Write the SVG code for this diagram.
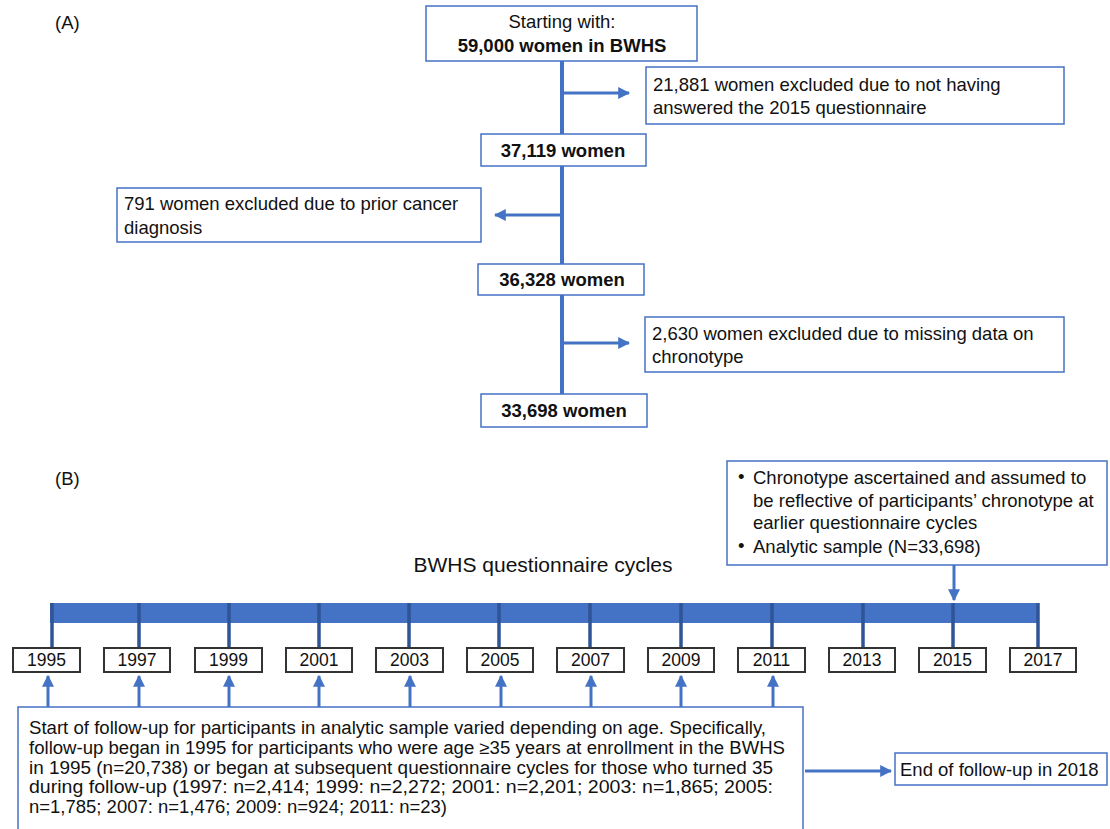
<svg xmlns="http://www.w3.org/2000/svg" width="1110" height="829" viewBox="0 0 1110 829">
<style>
text{font-family:"Liberation Sans",Arial,sans-serif;fill:#111;}
.t{font-size:18.5px;}
.b{font-size:18.5px;font-weight:bold;}
.box{fill:#fff;stroke:#4472C4;stroke-width:1.5;}
.yr{fill:#fff;stroke:#333;stroke-width:2;}
.yt{font-size:17.5px;text-anchor:middle;}
.ln{stroke:#4472C4;stroke-width:4;fill:none;}
.ar{stroke:#4472C4;stroke-width:3;fill:none;}
.tick{stroke:#2F5597;stroke-width:3.5;}
.bt{font-size:18px;}
</style>
<defs>
<marker id="ah" viewBox="0 0 10 10" refX="9" refY="5" markerWidth="4" markerHeight="4" orient="auto" markerUnits="strokeWidth">
<path d="M0,0L10,5L0,10z" fill="#4472C4"/>
</marker>
</defs>
<text x="55" y="29" class="t">(A)</text>
<text x="55" y="485" class="t">(B)</text>
<text x="543" y="572" style="font-size:21px;text-anchor:middle">BWHS questionnaire cycles</text>

<g id="connectors">
<line class="ln" x1="562" y1="61" x2="562" y2="394"/>
<line class="ar" x1="562" y1="93" x2="629" y2="93" marker-end="url(#ah)"/>
<line class="ar" x1="562" y1="215" x2="495" y2="215" marker-end="url(#ah)"/>
<line class="ar" x1="562" y1="343" x2="629" y2="343" marker-end="url(#ah)"/>
<line class="ar" x1="954" y1="565" x2="954" y2="600" marker-end="url(#ah)"/>
<line class="ar" x1="48" y1="707" x2="48" y2="676" marker-end="url(#ah)"/>
<line class="ar" x1="139" y1="707" x2="139" y2="676" marker-end="url(#ah)"/>
<line class="ar" x1="229" y1="707" x2="229" y2="676" marker-end="url(#ah)"/>
<line class="ar" x1="319" y1="707" x2="319" y2="676" marker-end="url(#ah)"/>
<line class="ar" x1="410" y1="707" x2="410" y2="676" marker-end="url(#ah)"/>
<line class="ar" x1="501" y1="707" x2="501" y2="676" marker-end="url(#ah)"/>
<line class="ar" x1="591" y1="707" x2="591" y2="676" marker-end="url(#ah)"/>
<line class="ar" x1="681" y1="707" x2="681" y2="676" marker-end="url(#ah)"/>
<line class="ar" x1="773" y1="707" x2="773" y2="676" marker-end="url(#ah)"/>
<line class="ar" x1="805" y1="771" x2="891" y2="771" marker-end="url(#ah)"/>
</g>

<g id="n-start">
<rect class="box" x="426" y="6" width="271" height="55"/>
<text x="562" y="28" class="t" text-anchor="middle">Starting with:</text>
<text x="562" y="52" class="b" text-anchor="middle">59,000 women in BWHS</text>
</g>
<g id="n-excl1">
<rect class="box" x="646" y="67" width="418" height="57"/>
<text x="653" y="91" class="t">21,881 women excluded due to not having</text>
<text x="653" y="114" class="t">answered the 2015 questionnaire</text>
</g>
<g id="n-37119">
<rect class="box" x="481" y="134" width="165" height="32"/>
<text x="563" y="157" class="b" text-anchor="middle">37,119 women</text>
</g>
<g id="n-excl2">
<rect class="box" x="117" y="188" width="364" height="54"/>
<text x="124" y="210" class="t">791 women excluded due to prior cancer</text>
<text x="124" y="234" class="t">diagnosis</text>
</g>
<g id="n-36328">
<rect class="box" x="478" y="264" width="166" height="31"/>
<text x="562" y="286" class="b" text-anchor="middle">36,328 women</text>
</g>
<g id="n-excl3">
<rect class="box" x="645" y="317" width="419" height="55"/>
<text x="652" y="340" class="t">2,630 women excluded due to missing data on</text>
<text x="652" y="363" class="t">chronotype</text>
</g>
<g id="n-33698">
<rect class="box" x="481" y="394" width="166" height="33"/>
<text x="564" y="417" class="b" text-anchor="middle">33,698 women</text>
</g>

<g id="n-chrono">
<rect class="box" x="727" y="461" width="380" height="104"/>
<text x="738" y="483" class="t">•</text>
<text x="753" y="484" class="t">Chronotype ascertained and assumed to</text>
<text x="753" y="507" class="t">be reflective of participants’ chronotype at</text>
<text x="753" y="529" class="t">earlier questionnaire cycles</text>
<text x="738" y="552" class="t">•</text>
<text x="753" y="553" class="t">Analytic sample (N=33,698)</text>
</g>

<g id="timeline">
<rect x="50" y="603" width="989" height="20" fill="#4472C4"/>
<g class="tick">
<line x1="52" y1="603" x2="52" y2="648"/>
<line x1="139" y1="603" x2="139" y2="648"/>
<line x1="229" y1="603" x2="229" y2="648"/>
<line x1="319" y1="603" x2="319" y2="648"/>
<line x1="409" y1="603" x2="409" y2="648"/>
<line x1="499" y1="603" x2="499" y2="648"/>
<line x1="590" y1="603" x2="590" y2="648"/>
<line x1="681" y1="603" x2="681" y2="648"/>
<line x1="772" y1="603" x2="772" y2="648"/>
<line x1="863" y1="603" x2="863" y2="648"/>
<line x1="953" y1="603" x2="953" y2="648"/>
<line x1="1038" y1="603" x2="1038" y2="648"/>
</g>
</g>
<g id="y1995"><rect class="yr" x="13" y="648" width="67" height="24"/><text class="yt" x="46.5" y="666">1995</text></g>
<g id="y1997"><rect class="yr" x="104" y="648" width="66" height="24"/><text class="yt" x="137" y="666">1997</text></g>
<g id="y1999"><rect class="yr" x="195" y="648" width="67" height="24"/><text class="yt" x="228.5" y="666">1999</text></g>
<g id="y2001"><rect class="yr" x="286" y="648" width="66" height="24"/><text class="yt" x="319" y="666">2001</text></g>
<g id="y2003"><rect class="yr" x="376" y="648" width="67" height="24"/><text class="yt" x="409.5" y="666">2003</text></g>
<g id="y2005"><rect class="yr" x="467" y="648" width="66" height="24"/><text class="yt" x="500" y="666">2005</text></g>
<g id="y2007"><rect class="yr" x="557" y="648" width="67" height="24"/><text class="yt" x="590.5" y="666">2007</text></g>
<g id="y2009"><rect class="yr" x="648" y="648" width="66" height="24"/><text class="yt" x="681" y="666">2009</text></g>
<g id="y2011"><rect class="yr" x="738" y="648" width="67" height="24"/><text class="yt" x="771.5" y="666">2011</text></g>
<g id="y2013"><rect class="yr" x="829" y="648" width="66" height="24"/><text class="yt" x="862" y="666">2013</text></g>
<g id="y2015"><rect class="yr" x="919" y="648" width="67" height="24"/><text class="yt" x="952.5" y="666">2015</text></g>
<g id="y2017"><rect class="yr" x="1010" y="648" width="66" height="24"/><text class="yt" x="1043" y="666">2017</text></g>

<g id="n-followup">
<rect class="box" x="18" y="707" width="785" height="130"/>
<text x="29" y="734" class="bt" textLength="737" lengthAdjust="spacingAndGlyphs">Start of follow-up for participants in analytic sample varied depending on age. Specifically,</text>
<text x="29" y="754" class="bt" textLength="756" lengthAdjust="spacingAndGlyphs">follow-up began in 1995 for participants who were age ≥35 years at enrollment in the BWHS</text>
<text x="29" y="774" class="bt" textLength="744" lengthAdjust="spacingAndGlyphs">in 1995 (n=20,738) or began at subsequent questionnaire cycles for those who turned 35</text>
<text x="29" y="793" class="bt" textLength="744" lengthAdjust="spacingAndGlyphs">during follow-up (1997: n=2,414; 1999: n=2,272; 2001: n=2,201; 2003: n=1,865; 2005:</text>
<text x="29" y="813" class="bt" textLength="418" lengthAdjust="spacingAndGlyphs">n=1,785; 2007: n=1,476; 2009: n=924; 2011: n=23)</text>
</g>
<g id="n-end">
<rect class="box" x="895" y="753" width="212" height="32"/>
<text x="900" y="776" class="t">End of follow-up in 2018</text>
</g>
</svg>
